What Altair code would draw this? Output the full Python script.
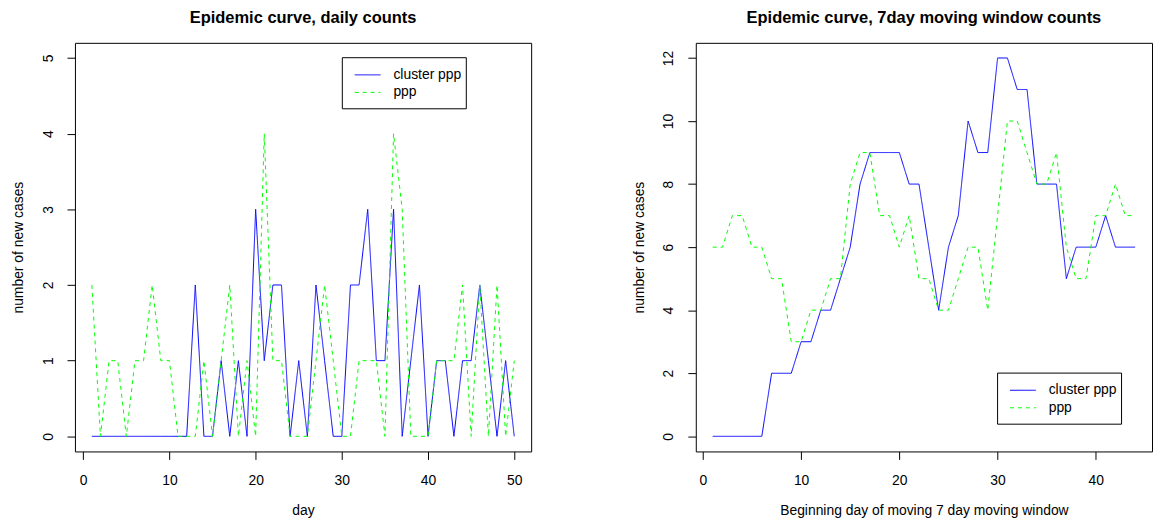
import altair as alt
import pandas as pd

# ---- data ----
series_names = ["cluster ppp", "ppp"]

days_daily = list(range(1, 51))
cluster_daily = [0, 0, 0, 0, 0, 0, 0, 0, 0, 0,
                 0, 0, 2, 0, 0, 1, 0, 1, 0, 3,
                 1, 2, 2, 0, 1, 0, 2, 1, 0, 0,
                 2, 2, 3, 1, 1, 3, 0, 1, 2, 0,
                 1, 1, 0, 1, 1, 2, 1, 0, 1, 0]
ppp_daily = [2, 0, 1, 1, 0, 1, 1, 2, 1, 1,
             0, 0, 0, 1, 0, 1, 2, 0, 1, 0,
             4, 1, 1, 0, 0, 0, 1, 2, 1, 0,
             0, 1, 1, 1, 0, 4, 3, 0, 0, 0,
             1, 1, 1, 2, 0, 2, 0, 2, 0, 1]

days_window = list(range(1, 45))
cluster_window = [0, 0, 0, 0, 0, 0, 2, 2, 2, 3,
                  3, 4, 4, 5, 6, 8, 9, 9, 9, 9,
                  8, 8, 6, 4, 6, 7, 10, 9, 9, 12,
                  12, 11, 11, 8, 8, 8, 5, 6, 6, 6,
                  7, 6, 6, 6]
ppp_window = [6, 6, 7, 7, 6, 6, 5, 5, 3, 3,
              4, 4, 5, 5, 8, 9, 9, 7, 7, 6,
              7, 5, 5, 4, 4, 5, 6, 6, 4, 7,
              10, 10, 9, 8, 8, 9, 6, 5, 5, 7,
              7, 8, 7, 7]

x_ticks_daily = [0, 10, 20, 30, 40, 50]
y_ticks_daily = [0, 1, 2, 3, 4, 5]
x_ticks_window = [0, 10, 20, 30, 40]
y_ticks_window = [0, 2, 4, 6, 8, 10, 12]

colors = ["#0000ff", "#00ff00"]
dashes = [[1, 0], [4, 4]]
FONT = "Liberation Sans"
FS = 14
TFS = 16.6
W, H = 460, 412


def long_df(days, a, b):
    return pd.DataFrame({
        "day": days + days,
        "count": a + b,
        "series": [series_names[0]] * len(days) + [series_names[1]] * len(days),
    })


def axis(values, vertical=False):
    common = dict(values=values, domain=False, grid=False, ticks=True, tickSize=8,
                  tickColor="black", tickWidth=1, labelFont=FONT, labelFontSize=FS,
                  labelColor="black", titleFont=FONT, titleFontSize=FS,
                  titleFontWeight="normal", titleColor="black", labelFlush=False)
    if vertical:
        return alt.Axis(labelAngle=-90, labelAlign="center", labelBaseline="bottom",
                        labelPadding=12, titlePadding=15.5, **common)
    return alt.Axis(labelPadding=14, titlePadding=17, **common)


def legend_layers(x0, y0):
    """Boxed legend like R's legend(); x0, y0 = top-left corner in plot pixels."""
    one = pd.DataFrame({"k": [0]})
    box = alt.Chart(one).mark_rect(fill="white", stroke="black", strokeWidth=1).encode(
        x=alt.value(x0), x2=alt.value(x0 + 125), y=alt.value(y0), y2=alt.value(y0 + 51.5))
    layers = [box]
    for i, name in enumerate(series_names):
        yy = y0 + 17.3 + 17.7 * i
        layers.append(alt.Chart(one).mark_rule(
            color=colors[i], strokeWidth=1, strokeDash=dashes[i]).encode(
            x=alt.value(x0 + 12.5), x2=alt.value(x0 + 38.5), y=alt.value(yy)))
        layers.append(alt.Chart(one).mark_text(
            align="left", baseline="middle", font=FONT, fontSize=FS, color="black").encode(
            x=alt.value(x0 + 51.5), y=alt.value(yy), text=alt.value(name)))
    return layers


def panel(df, title, xtitle, xdom, xvals, ydom, yvals, legx, legy):
    lines = alt.Chart(df).mark_line(strokeWidth=1).encode(
        x=alt.X("day:Q", title=xtitle,
                scale=alt.Scale(domain=xdom, nice=False, zero=False), axis=axis(xvals)),
        y=alt.Y("count:Q", title="number of new cases",
                scale=alt.Scale(domain=ydom, nice=False, zero=False),
                axis=axis(yvals, vertical=True)),
        color=alt.Color("series:N", scale=alt.Scale(domain=series_names, range=colors),
                        legend=None),
        strokeDash=alt.StrokeDash("series:N",
                                  scale=alt.Scale(domain=series_names, range=dashes),
                                  legend=None),
    )
    return alt.layer(lines, *legend_layers(legx, legy)).properties(
        width=W, height=H,
        title=alt.Title(title, fontSize=TFS, fontWeight="bold", font=FONT,
                        offset=16, anchor="middle", color="black"),
    )


left = panel(long_df(days_daily, cluster_daily, ppp_daily),
             "Epidemic curve, daily counts", "day",
             [-0.96, 51.96], x_ticks_daily, [-0.2, 5.2], y_ticks_daily, 269.6, 15)
right = panel(long_df(days_window, cluster_window, ppp_window),
              "Epidemic curve, 7day moving window counts",
              "Beginning day of moving 7 day moving window",
              [-0.72, 45.72], x_ticks_window, [-0.48, 12.48], y_ticks_window,
              304.3, 333)

chart = alt.hconcat(left, right, spacing=101).resolve_scale(
    color="independent", strokeDash="independent"
).properties(
    padding={"left": 2.5, "top": -1, "right": 0, "bottom": 0},
    background="white",
).configure_view(stroke="black", strokeWidth=1)

chart.save("out.html", embed_options={"renderer": "svg", "actions": False})
